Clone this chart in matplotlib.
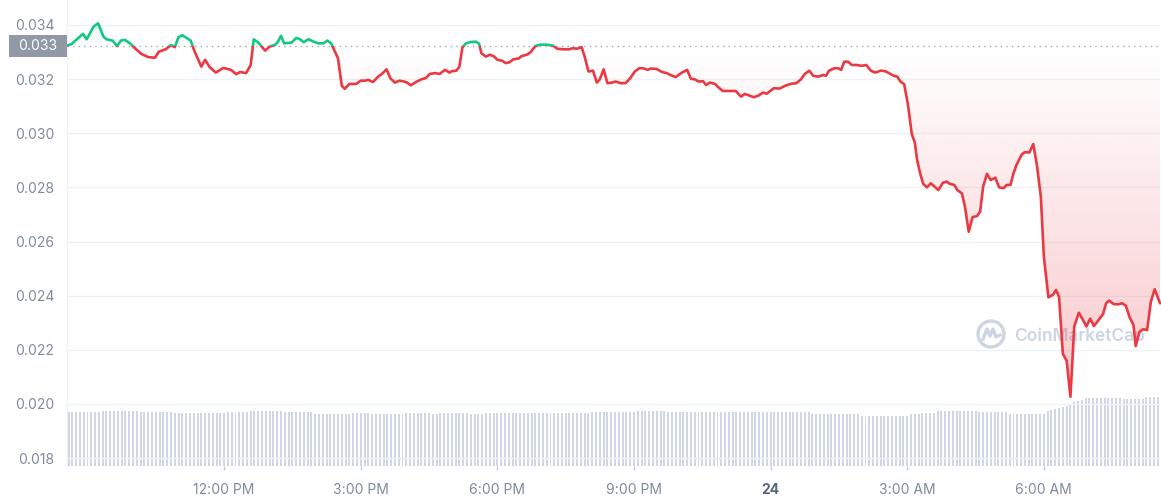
import numpy as np
import matplotlib
matplotlib.use("Agg")
import matplotlib.pyplot as plt
from matplotlib.path import Path
from matplotlib.patches import Rectangle, Circle
from matplotlib.lines import Line2D
from matplotlib.transforms import IdentityTransform, blended_transform_factory
from matplotlib.colors import to_rgb

plt.rcParams['font.family'] = ['Inter', 'DejaVu Sans']

# ---------------- data ----------------
# minutes after the window start (08:33)
minutes = [
    0, 6, 13, 21, 26, 35, 41, 48, 52, 60, 66, 71, 76, 83, 91, 98, 107, 116, 121, 130,
    137, 142, 147, 152, 158, 163, 167, 172, 177, 182, 188, 196, 206, 216, 223, 228, 236, 242, 246, 252,
    261, 267, 274, 278, 282, 286, 296, 302, 307, 312, 318, 325, 331, 338, 343, 348, 353, 357, 362, 366,
    372, 381, 387, 393, 397, 403, 410, 416, 421, 426, 432, 438, 444, 448, 453, 461, 467, 473, 478, 485,
    491, 498, 504, 507, 513, 517, 521, 526, 532, 539, 543, 546, 552, 557, 563, 567, 573, 578, 583, 588,
    595, 599, 606, 611, 617, 623, 632, 640, 646, 653, 662, 666, 672, 678, 682, 687, 693, 698, 702, 707,
    712, 718, 723, 729, 736, 742, 748, 754, 759, 765, 769, 777, 784, 790, 795, 802, 809, 817, 822, 827,
    832, 838, 842, 847, 854, 858, 864, 871, 881, 888, 893, 899, 905, 911, 917, 922, 927, 931, 939, 946,
    953, 961, 967, 972, 978, 983, 990, 996, 1000, 1004, 1011, 1016, 1020, 1024, 1029, 1034, 1040, 1047, 1053, 1059,
    1065, 1072, 1078, 1083, 1089, 1094, 1098, 1103, 1108, 1113, 1117, 1120, 1124, 1128, 1133, 1138, 1144, 1148, 1154, 1159,
    1163, 1169, 1173, 1179, 1183, 1188, 1193, 1199, 1203, 1207, 1212, 1217, 1223, 1228, 1234, 1238, 1243, 1247, 1251, 1258,
    1262, 1268, 1273, 1278, 1283, 1287, 1293, 1299, 1303, 1307, 1312, 1317, 1322, 1327, 1333, 1338, 1343, 1348, 1353, 1359,
    1365, 1369, 1373, 1379, 1385, 1390, 1395, 1400, 1405, 1408, 1413, 1418, 1423, 1428, 1433, 1440,
]

price = [
    0.03324, 0.03329, 0.03347, 0.03367, 0.03347, 0.03394, 0.03406, 0.03357, 0.03347, 0.03342,
    0.03322, 0.03342, 0.03345, 0.03332, 0.03310, 0.03293, 0.03281, 0.03279, 0.03301, 0.03310,
    0.03326, 0.03318, 0.03355, 0.03362, 0.03351, 0.03342, 0.03310, 0.03277, 0.03246, 0.03271,
    0.03244, 0.03224, 0.03241, 0.03234, 0.03218, 0.03226, 0.03222, 0.03252, 0.03347, 0.03335,
    0.03305, 0.03320, 0.03326, 0.03338, 0.03360, 0.03332, 0.03335, 0.03352, 0.03347, 0.03336,
    0.03347, 0.03338, 0.03332, 0.03332, 0.03342, 0.03332, 0.03301, 0.03277, 0.03175, 0.03164,
    0.03182, 0.03182, 0.03194, 0.03194, 0.03197, 0.03189, 0.03209, 0.03222, 0.03236, 0.03203,
    0.03187, 0.03194, 0.03191, 0.03187, 0.03177, 0.03191, 0.03199, 0.03204, 0.03219, 0.03222,
    0.03219, 0.03234, 0.03224, 0.03229, 0.03231, 0.03246, 0.03318, 0.03332, 0.03337, 0.03338,
    0.03330, 0.03295, 0.03283, 0.03290, 0.03283, 0.03271, 0.03268, 0.03259, 0.03262, 0.03273,
    0.03276, 0.03285, 0.03290, 0.03300, 0.03322, 0.03327, 0.03327, 0.03324, 0.03312, 0.03310,
    0.03310, 0.03314, 0.03312, 0.03318, 0.03283, 0.03228, 0.03231, 0.03187, 0.03199, 0.03236,
    0.03185, 0.03187, 0.03191, 0.03185, 0.03185, 0.03203, 0.03228, 0.03240, 0.03240, 0.03234,
    0.03239, 0.03237, 0.03226, 0.03222, 0.03215, 0.03207, 0.03222, 0.03234, 0.03201, 0.03199,
    0.03191, 0.03192, 0.03178, 0.03187, 0.03182, 0.03170, 0.03156, 0.03156, 0.03156, 0.03135,
    0.03145, 0.03139, 0.03133, 0.03139, 0.03150, 0.03146, 0.03157, 0.03166, 0.03165, 0.03175,
    0.03182, 0.03185, 0.03199, 0.03219, 0.03231, 0.03212, 0.03209, 0.03215, 0.03212, 0.03231,
    0.03240, 0.03240, 0.03234, 0.03264, 0.03264, 0.03252, 0.03252, 0.03249, 0.03252, 0.03231,
    0.03224, 0.03231, 0.03229, 0.03222, 0.03212, 0.03209, 0.03191, 0.03181, 0.03104, 0.02997,
    0.02965, 0.02901, 0.02852, 0.02813, 0.02800, 0.02815, 0.02800, 0.02790, 0.02817, 0.02821,
    0.02813, 0.02809, 0.02790, 0.02778, 0.02729, 0.02636, 0.02690, 0.02694, 0.02710, 0.02803,
    0.02850, 0.02827, 0.02836, 0.02800, 0.02797, 0.02809, 0.02809, 0.02852, 0.02883, 0.02922,
    0.02930, 0.02929, 0.02960, 0.02879, 0.02766, 0.02544, 0.02394, 0.02403, 0.02421, 0.02396,
    0.02185, 0.02160, 0.02027, 0.02286, 0.02337, 0.02313, 0.02286, 0.02315, 0.02288, 0.02310,
    0.02332, 0.02372, 0.02382, 0.02369, 0.02368, 0.02372, 0.02363, 0.02320, 0.02292, 0.02214,
    0.02267, 0.02276, 0.02273, 0.02378, 0.02424, 0.02372,
]

open_price = 0.03322

# relative 5-minute volume
volume = [
    54, 54, 54, 54, 54, 54, 54, 54, 54, 55, 55, 55, 55, 55, 55, 55, 55, 55, 55, 54, 54, 54, 54, 54,
    54, 54, 54, 54, 53, 53, 53, 53, 53, 53, 53, 53, 53, 53, 53, 53, 53, 53, 54, 54, 54, 54, 54, 54,
    55, 55, 55, 55, 55, 55, 55, 55, 55, 54, 54, 54, 54, 54, 54, 54, 54, 52, 52, 52, 52, 52, 52, 52,
    52, 52, 52, 53, 53, 53, 53, 53, 52, 52, 52, 52, 52, 52, 52, 52, 52, 53, 53, 53, 53, 53, 53, 53,
    52, 52, 53, 53, 53, 53, 53, 53, 53, 53, 52, 52, 52, 52, 53, 53, 53, 53, 53, 53, 53, 53, 53, 53,
    53, 53, 53, 53, 53, 53, 53, 53, 53, 53, 53, 53, 53, 53, 53, 53, 53, 53, 54, 54, 54, 54, 54, 54,
    54, 54, 54, 54, 54, 54, 55, 55, 55, 55, 55, 55, 55, 55, 54, 54, 54, 54, 54, 54, 54, 54, 54, 54,
    54, 54, 54, 54, 54, 54, 54, 54, 54, 54, 54, 54, 54, 54, 54, 54, 54, 54, 54, 54, 54, 54, 54, 54,
    54, 54, 54, 54, 52, 52, 52, 52, 52, 52, 52, 52, 52, 52, 52, 52, 52, 50, 50, 50, 50, 50, 50, 50,
    50, 50, 50, 50, 50, 50, 52, 52, 52, 53, 53, 53, 53, 55, 55, 55, 55, 55, 55, 55, 55, 55, 55, 55,
    54, 54, 54, 54, 54, 54, 54, 54, 52, 52, 52, 52, 52, 52, 52, 52, 52, 52, 55, 56, 57, 58, 59, 60,
    62, 64, 65, 66, 68, 68, 68, 68, 68, 68, 68, 68, 68, 68, 67, 67, 67, 67, 67, 67, 69, 69, 69, 69,
]

y_ticks = [0.018, 0.020, 0.022, 0.024, 0.026, 0.028, 0.030, 0.032, 0.034]
x_tick_hours = [12, 15, 18, 21, 24, 27, 30]
x_tick_labels = ["12:00 PM", "3:00 PM", "6:00 PM", "9:00 PM", "24", "3:00 AM", "6:00 AM"]
start_clock = 8 * 60 + 33
span = 24 * 60

# ---------------- figure ----------------
W, H = 1161, 500
fig = plt.figure(figsize=(W / 100, H / 100), dpi=100)
ax = fig.add_axes([67 / W, 34 / H, 1093 / W, 466 / H])
ylo, yhi = 0.01771, 0.03492

# volume (behind)
vax = ax.twinx()
bar_x = np.arange(len(volume)) * 5 + 2
vax.bar(bar_x, volume, width=2.6, color='#CFD6E4', linewidth=0)
vax.set_ylim(0, 466)
vax.set_yticks([])
for s in vax.spines.values():
    s.set_visible(False)
ax.set_zorder(2)
ax.patch.set_visible(False)

t = np.asarray(minutes, float)
p = np.asarray(price, float)

# gradient fills between line and open price
verts = np.concatenate([np.column_stack([t, p]),
                        np.column_stack([t[::-1], np.full(len(t), open_price)]),
                        [[t[0], p[0]]]])
clip = Path(verts, closed=True)


def grad(color, a0, a1, y0, y1):
    n = 256
    rgba = np.zeros((n, 1, 4))
    rgba[..., :3] = to_rgb(color)
    rgba[:, 0, 3] = np.linspace(a0, a1, n)
    im = ax.imshow(rgba, extent=(0, span, y0, y1), origin='lower', aspect='auto',
                   zorder=2, interpolation='bilinear')
    im.set_clip_path(clip, ax.transData)


grad('#EA3943', 0.33, 0.0, ylo, open_price)
grad('#16C784', 0.0, 0.25, open_price, yhi)

# baseline dotted
ax.axhline(open_price, color='#A0A7B3', lw=1, ls=(0, (1, 3)), zorder=3)

# price line, red below / green above open
for color, (y0, y1) in [('#EA3943', (ylo - 1, open_price)), ('#16C784', (open_price, yhi + 1))]:
    ln, = ax.plot(t, p, color=color, lw=1.9, zorder=4, solid_joinstyle='round',
                  solid_capstyle='round')
    ln.set_clip_path(Rectangle((-100, y0), span + 200, y1 - y0, transform=ax.transData))

ax.set_xlim(0, span)
ax.set_ylim(ylo, yhi)

# axes styling
ax.set_yticks(y_ticks)
ax.set_yticklabels([f"{v:.3f}" for v in y_ticks])
ax.yaxis.grid(True, color='#EFF2F5', lw=1)
ax.set_axisbelow(True)
ax.tick_params(axis='y', length=0, pad=9, labelsize=10, labelcolor='#808A9D')

ax.set_xticks([h * 60 - start_clock for h in x_tick_hours])
ax.set_xticklabels(x_tick_labels)
ax.tick_params(axis='x', length=3, width=1, color='#C7CDD8', pad=9, labelsize=10,
               labelcolor='#808A9D')
for lab in ax.get_xticklabels():
    if lab.get_text() == "24":
        lab.set_fontweight('bold')
        lab.set_color('#58667E')

for name, s in ax.spines.items():
    s.set_visible(name == 'left')
ax.spines['left'].set_color('#EFF2F5')

# open-price label box
trans = blended_transform_factory(ax.transAxes, ax.transData)
dy = 11 * (yhi - ylo) / 466
ax.add_patch(Rectangle((-58 / 1093, open_price - dy), 58 / 1093, 2 * dy, transform=trans,
                       facecolor='#9199A6', edgecolor='none', clip_on=False, zorder=5))
ax.text(-29 / 1093, open_price, f"{open_price:.3f}", transform=trans, ha='center',
        va='center', color='white', fontsize=10, clip_on=False, zorder=6)

# watermark
wm = '#CDD4E2'
idt = IdentityTransform()
cx, cy = 991, H - 334
ax.add_patch(Circle((cx, cy), 13, transform=idt, fill=False, ec=wm, lw=2.4, zorder=1,
                    clip_on=False))
ax.add_line(Line2D([cx - 8, cx - 4, cx - 1, cx + 2, cx + 5, cx + 9],
                   [cy - 5, cy + 5, cy - 2, cy + 5, cy - 3, cy - 1],
                   transform=idt, color=wm, lw=2.4, zorder=1, solid_joinstyle='round',
                   clip_on=False))
ax.text(1014, H - 336, "CoinMarketCap", transform=idt, ha='left', va='center',
        fontsize=12.5, fontweight='semibold', color=wm, zorder=1, clip_on=False)

fig.savefig('out.png', dpi=100)
